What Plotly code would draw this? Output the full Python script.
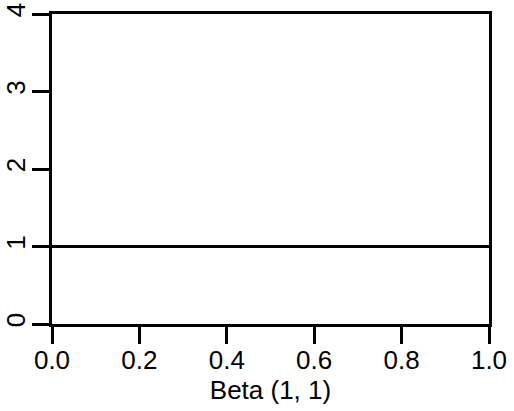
import plotly.graph_objects as go

x_vals = [0.0, 1.0]
density = [1.0, 1.0]
x_ticks = [0.0, 0.2, 0.4, 0.6, 0.8, 1.0]
x_labels = ["0.0", "0.2", "0.4", "0.6", "0.8", "1.0"]
y_ticks = [0, 1, 2, 3, 4]
y_labels = ["0", "1", "2", "3", "4"]

fig = go.Figure()
fig.add_trace(go.Scatter(x=x_vals, y=density, mode="lines",
                         line=dict(color="black", width=3), showlegend=False,
                         hoverinfo="skip"))

font = dict(family="Liberation Sans, Arial, sans-serif", size=26, color="black")
fig.update_layout(
    width=514, height=411,
    margin=dict(l=52, r=25, t=14, b=87),
    paper_bgcolor="white", plot_bgcolor="white",
    font=font,
    xaxis=dict(range=[0, 1], tickvals=x_ticks, ticktext=x_labels,
               showline=True, mirror=True, linecolor="black", linewidth=3,
               ticks="outside", ticklen=17, tickwidth=3, tickcolor="black",
               showgrid=False, zeroline=False, automargin=False,
               ticklabelstandoff=-6, ticklabeloverflow="allow",
               title=dict(text="Beta (1, 1)", standoff=0, font=font)),
    yaxis=dict(range=[0, 4], tickvals=y_ticks, ticktext=y_labels,
               showline=True, mirror=True, linecolor="black", linewidth=3,
               ticks="outside", ticklen=17, tickwidth=3, tickcolor="black",
               showgrid=False, zeroline=False, tickangle=-90, automargin=False,
               ticklabelstandoff=-3, ticklabeloverflow="allow"),
)
fig.write_html("out.html", config={"displayModeBar": False},
               post_script="document.body.style.margin='0';")
